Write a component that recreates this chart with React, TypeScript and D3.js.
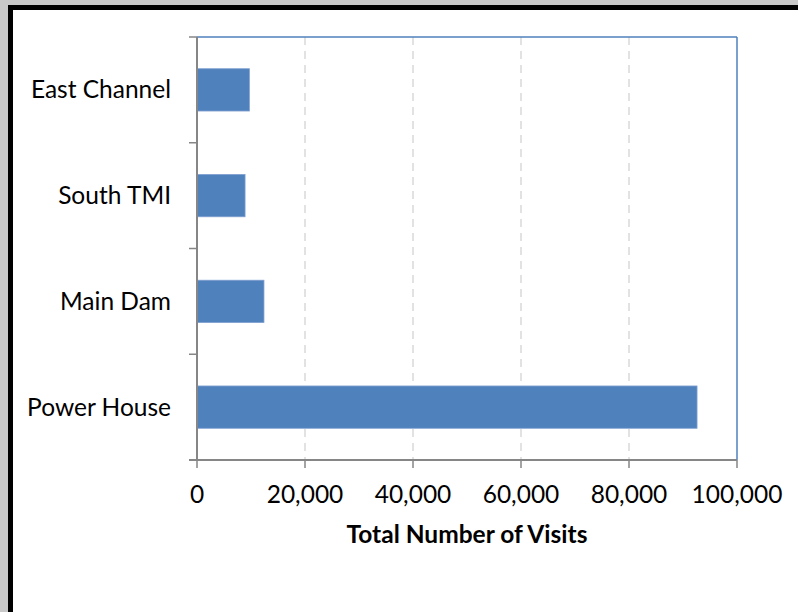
import React from "react";
import * as d3 from "d3";

const categories = ["East Channel", "South TMI", "Main Dam", "Power House"];
const visits = [9700, 8900, 12400, 92600];
const xTicks = [0, 20000, 40000, 60000, 80000, 100000];
const xTitle = "Total Number of Visits";

const W = 798;
const H = 612;
const M = { left: 197, top: 37, right: 737, bottom: 460 };
const FONT = "Lato, 'Open Sans', sans-serif";

export default function App() {
  const x = d3.scaleLinear().domain([0, 100000]).range([M.left, M.right]);
  const y = d3
    .scaleBand<string>()
    .domain(categories)
    .range([M.top, M.bottom])
    .paddingInner(0.6)
    .paddingOuter(0.3);
  const step = y.step();
  const fmt = d3.format(",");
  return (
    <div style={{ position: "fixed", left: 0, top: 0, width: W, height: H }}>
      <svg width={W} height={H} style={{ display: "block" }}>
        <rect x={0} y={0} width={W} height={H} fill="#c8c8c8" />
        <rect x={8} y={5} width={W} height={H} fill="#000" />
        <rect x={13} y={10} width={W} height={H} fill="#fff" />
        {/* gridlines */}
        {xTicks.slice(1, -1).map((t) => (
          <line
            key={"g" + t}
            x1={x(t)}
            x2={x(t)}
            y1={M.top}
            y2={M.bottom}
            stroke="#d9d9d9"
            strokeWidth={1.5}
            strokeDasharray="8,6"
          />
        ))}
        {/* bars */}
        {categories.map((c, i) => (
          <rect
            key={c}
            x={x(0)}
            y={y(c)!}
            width={x(visits[i]) - x(0)}
            height={y.bandwidth()}
            fill="#4f81bd"
            stroke="#7f9fd0"
            strokeWidth={0.8}
          />
        ))}
        {/* plot border top/right */}
        <line x1={M.left} x2={M.right} y1={M.top} y2={M.top} stroke="#4f81bd" strokeWidth={1.5} />
        <line x1={M.right} x2={M.right} y1={M.top} y2={M.bottom} stroke="#4f81bd" strokeWidth={1.5} />
        {/* y axis */}
        <line x1={M.left} x2={M.left} y1={M.top} y2={M.bottom} stroke="#868686" strokeWidth={2} />
        {d3.range(categories.length + 1).map((i) => (
          <line
            key={"yt" + i}
            x1={M.left - 8}
            x2={M.left}
            y1={M.top + i * step}
            y2={M.top + i * step}
            stroke="#868686"
            strokeWidth={1.5}
          />
        ))}
        {/* x axis */}
        <line x1={M.left - 8} x2={M.right} y1={M.bottom} y2={M.bottom} stroke="#868686" strokeWidth={2} />
        {xTicks.map((t) => (
          <line
            key={"xt" + t}
            x1={x(t)}
            x2={x(t)}
            y1={M.bottom}
            y2={M.bottom + 8}
            stroke="#868686"
            strokeWidth={1.5}
          />
        ))}
        {xTicks.map((t) => (
          <text
            key={"xl" + t}
            x={x(t)}
            y={503}
            textAnchor="middle"
            fontFamily={FONT}
            fontSize={24.5}
            fill="#000"
          >
            {fmt(t)}
          </text>
        ))}
        {categories.map((c) => (
          <text
            key={"yl" + c}
            x={171}
            y={y(c)! + y.bandwidth() / 2}
            dy="0.35em"
            textAnchor="end"
            fontFamily={FONT}
            fontSize={24.5}
            fill="#000"
          >
            {c}
          </text>
        ))}
        <text
          x={(M.left + M.right) / 2}
          y={543}
          textAnchor="middle"
          fontFamily={FONT}
          fontSize={24.5}
          fontWeight="bold"
          fill="#000"
        >
          {xTitle}
        </text>
      </svg>
    </div>
  );
}
